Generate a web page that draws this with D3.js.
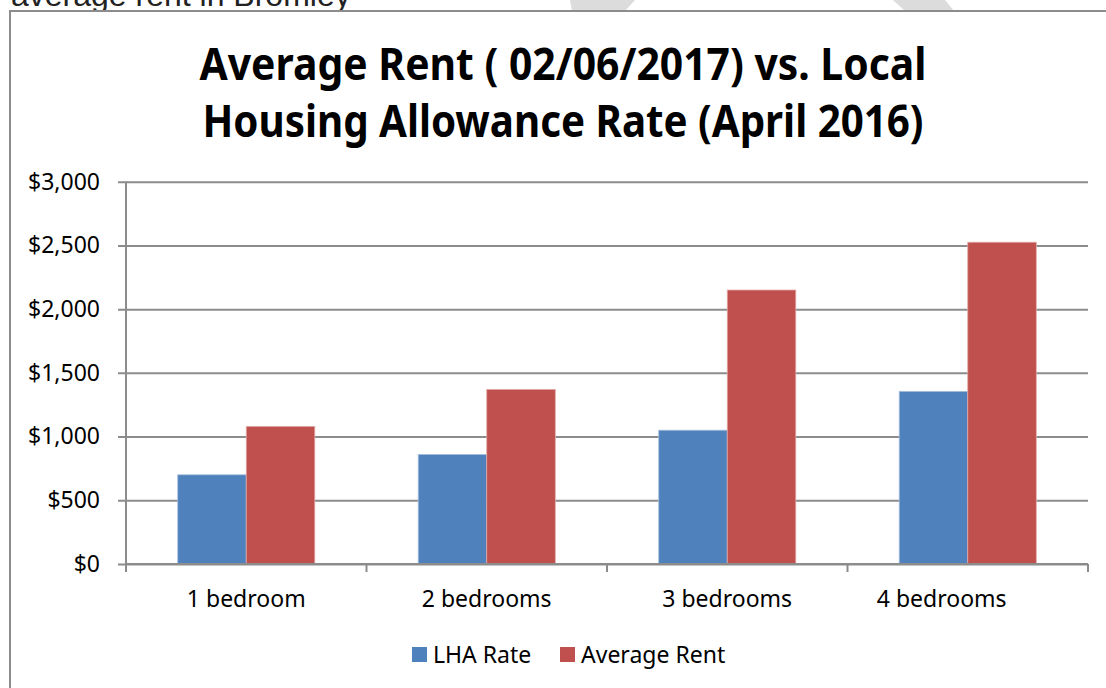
<!DOCTYPE html>
<html>
<head>
<meta charset="utf-8">
<script src="https://cdn.jsdelivr.net/npm/d3@7"></script>
<style>
  body { margin: 0; background: #fff; }
</style>
</head>
<body>
<script>
// data
const categories = ["1 bedroom", "2 bedrooms", "3 bedrooms", "4 bedrooms"];
const seriesNames = ["LHA Rate", "Average Rent"];
const lhaRate = [700, 860, 1050, 1355];
const averageRent = [1080, 1370, 2150, 2525];
const yTicks = [0, 500, 1000, 1500, 2000, 2500, 3000];
const titleLines = ["Average Rent ( 02/06/2017) vs. Local", "Housing Allowance Rate (April 2016)"];

const colors = ["#4F81BD", "#C0504D"];

const canvWidth = 1106, canvHeight = 688;
const svg = d3.select("body").append("svg")
    .attr("width", canvWidth)
    .attr("height", canvHeight);

// faint shapes peeking above the chart box
svg.append("polygon").attr("points", "570,0 635,0 625,11 572,11").attr("fill", "#dcdcdc");
svg.append("polygon").attr("points", "893,0 945,0 954,11 905,11").attr("fill", "#dcdcdc");

// cut-off document text above the chart (cut off in the original too)
svg.append("text")
    .attr("x", 11)
    .attr("y", 6)
    .attr("font-family", "Liberation Sans, Arial, sans-serif")
    .attr("font-size", "32px")
    .attr("fill", "#222")
    .text("average rent in Bromley");

// chart box
svg.append("rect")
    .attr("x", 10)
    .attr("y", 11)
    .attr("width", 1120)
    .attr("height", 700)
    .attr("fill", "#fff")
    .attr("stroke", "#8c8c8c")
    .attr("stroke-width", 2);

// title
svg.selectAll(".title")
    .data(titleLines)
    .enter().append("text")
    .attr("class", "title")
    .attr("x", 563)
    .attr("y", (d, i) => 80 + i * 57)
    .attr("text-anchor", "middle")
    .attr("font-family", "Noto Sans, sans-serif")
    .attr("font-weight", "bold")
    .attr("font-size", "44px")
    .attr("textLength", (d, i) => i === 0 ? 727 : 721)
    .attr("lengthAdjust", "spacingAndGlyphs")
    .attr("fill", "#000")
    .text(d => d);

// plot area
const plot = { left: 126, right: 1088, top: 181.7, bottom: 564 };

const yScale = d3.scaleLinear()
    .domain([0, 3000])
    .range([plot.bottom, plot.top]);

const xScale = d3.scaleBand()
    .domain(categories)
    .range([plot.left, plot.right])
    .paddingInner(0.43)
    .paddingOuter(0.215);

const xSub = d3.scaleBand()
    .domain(seriesNames)
    .range([0, xScale.bandwidth()]);

const g = svg.append("g");

// gridlines (with small ticks sticking out left of the axis)
g.append("g")
    .attr("transform", "translate(" + plot.right + ",0)")
    .call(d3.axisLeft(yScale).tickValues(yTicks).tickSize(plot.right - plot.left + 8).tickFormat(""))
    .call(a => a.select(".domain").remove())
    .call(a => a.selectAll("line").attr("stroke", "#8c8c8c").attr("stroke-width", 2));

// y tick labels
const yg = g.append("g")
    .attr("transform", "translate(" + plot.left + ",0)")
    .call(d3.axisLeft(yScale).tickValues(yTicks).tickSize(0).tickPadding(26)
        .tickFormat(d => "$" + d3.format(",")(d)));
yg.select(".domain").remove();
yg.selectAll("text")
    .attr("font-family", "Noto Sans, sans-serif")
    .attr("font-size", "23px")
    .attr("fill", "#000");

// y axis line
g.append("line")
    .attr("x1", plot.left).attr("x2", plot.left)
    .attr("y1", plot.top).attr("y2", plot.bottom + 8)
    .attr("stroke", "#8c8c8c").attr("stroke-width", 2);

// bars
const rows = categories.map((c, i) => ({ cat: c, values: [lhaRate[i], averageRent[i]] }));
g.selectAll(".group")
    .data(rows)
    .enter().append("g")
    .attr("class", "group")
    .attr("transform", d => "translate(" + xScale(d.cat) + ",0)")
    .selectAll("rect")
    .data(d => d.values.map((v, j) => ({ name: seriesNames[j], value: v, j: j })))
    .enter().append("rect")
    .attr("x", d => xSub(d.name))
    .attr("y", d => yScale(d.value))
    .attr("width", xSub.bandwidth())
    .attr("height", d => yScale(0) - yScale(d.value))
    .attr("fill", d => colors[d.j])
    .attr("stroke", d => d.j === 0 ? "#a9c0dd" : "#e2a9a7")
    .attr("stroke-width", 0.8);

// x axis
const xAxisG = g.append("g")
    .attr("transform", "translate(0," + plot.bottom + ")");
xAxisG.append("line")
    .attr("x1", plot.left).attr("x2", plot.right)
    .attr("stroke", "#8c8c8c").attr("stroke-width", 2);
const step = xScale.step();
xAxisG.selectAll(".tick")
    .data(d3.range(categories.length + 1))
    .enter().append("line")
    .attr("x1", i => plot.left + i * step).attr("x2", i => plot.left + i * step)
    .attr("y1", 0).attr("y2", 8)
    .attr("stroke", "#8c8c8c").attr("stroke-width", 2);
// the last label sits a little left of its band in the original
xAxisG.selectAll(".catlabel")
    .data(categories)
    .enter().append("text")
    .attr("x", (d, i) => xScale(d) + xScale.bandwidth() / 2 - (i === categories.length - 1 ? 26 : 0))
    .attr("y", 43)
    .attr("text-anchor", "middle")
    .attr("font-family", "Noto Sans, sans-serif")
    .attr("font-size", "23px")
    .attr("fill", "#000")
    .text(d => d);

// legend
const legendX = [412, 560];
const legend = svg.selectAll(".legend")
    .data(seriesNames)
    .enter().append("g")
    .attr("class", "legend")
    .attr("transform", (d, i) => "translate(" + legendX[i] + ",647)");
legend.append("rect")
    .attr("width", 15).attr("height", 15)
    .attr("fill", (d, i) => colors[i]);
legend.append("text")
    .attr("x", 21)
    .attr("y", 16)
    .attr("font-family", "Noto Sans, sans-serif")
    .attr("font-size", "23px")
    .attr("fill", "#000")
    .text(d => d);
</script>
</body>
</html>
